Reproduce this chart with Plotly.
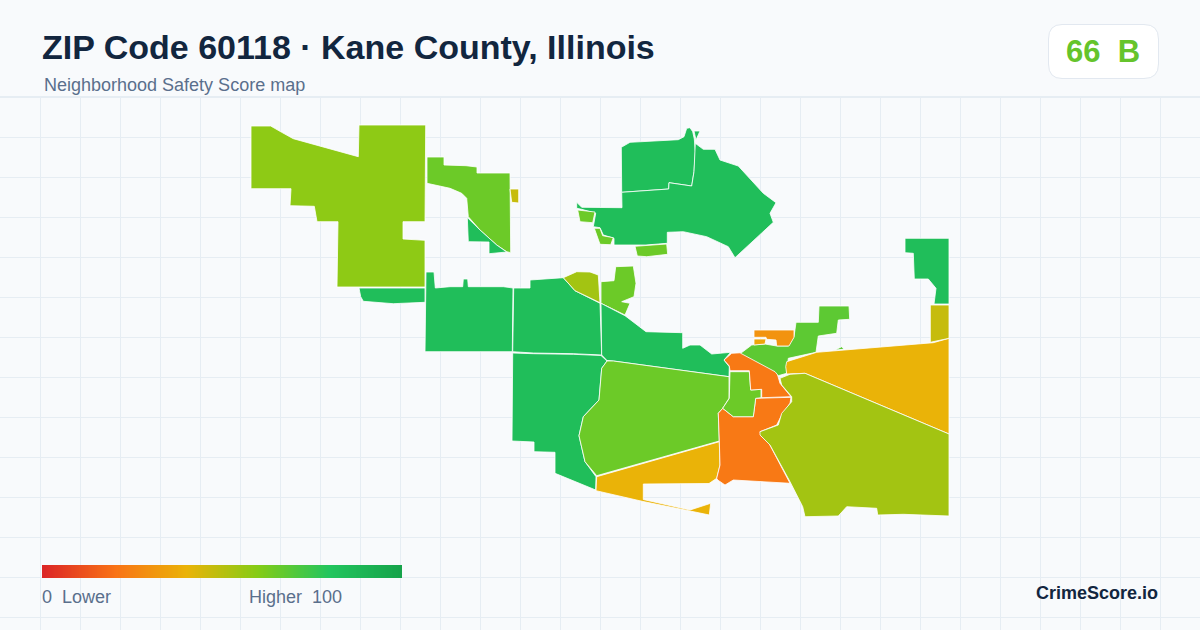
import plotly.graph_objects as go
from plotly.colors import sample_colorscale

# score ramp used by the map and the legend bar
score_stops = [
    [0.0, "#dc2626"],
    [0.2, "#f97316"],
    [0.4, "#eab308"],
    [0.6, "#84cc16"],
    [0.8, "#22c55e"],
    [1.0, "#16a34a"],
]
legend_scores = list(range(0, 101))

# map areas: (score, outline)
northwest = [(251, 126), (270.7, 126), (281.7, 132.3), (293.3, 138.7), (358.3, 156.7), (359, 125), (425.7, 125), (425, 221.7), (403, 221.7), (403, 239), (425, 240.3), (425, 287), (337, 287), (338, 221.7), (317, 221.7), (314.3, 206.3), (290, 205.7), (291, 188.7), (251, 188.7)]
north_strip = [(427, 157), (444, 157), (444, 165), (466, 165.7), (477, 167), (477, 173), (510, 173), (510.7, 252.7), (506.7, 251.7), (496.7, 245), (480, 230), (468.3, 216.7), (466.7, 198.3), (461.7, 193.3), (450, 188.3), (427, 183.3)]
north_wedge = [(467.3, 217.5), (480, 230), (496.7, 245), (506.7, 252), (489, 253.7), (489, 242), (468.3, 241.7)]
north_dot = [(510, 189), (518.7, 189), (518.7, 203), (511.7, 202.3)]
lake_north = [(621.3, 147.3), (630, 142.3), (678.3, 139.7), (684, 136.7), (686.7, 128.3), (690, 127.7), (692.7, 131.7), (694.3, 139), (695.3, 151.7), (694, 171.7), (691.7, 186), (669, 182.7), (668.7, 189), (621.7, 192.3)]
lake_tip = [(694, 131), (700, 131), (696, 140)]
lake_main = [(576.7, 202.3), (581.7, 207.3), (622, 207.7), (621.7, 192.3), (668.7, 189), (669, 182.7), (691.7, 186), (694, 171.7), (695.3, 143.3), (703.3, 149.3), (715, 149.3), (720, 160), (738.3, 166), (763.3, 193.3), (776, 202.7), (770, 213.3), (773.3, 222.3), (735, 257.7), (728.3, 246.7), (706.7, 236.7), (683.3, 231.7), (667.3, 232.3), (667.3, 243.3), (646, 245), (614, 245), (614, 238.3), (603.3, 235), (600, 227.7), (593.3, 226.7), (595.7, 213.3), (581.7, 209.3), (576.7, 208.3)]
lake_west = [(577.7, 210), (595, 212), (592.7, 222.7), (580, 221.7)]
lake_sw = [(594.3, 228.3), (600, 228.3), (602.7, 235.7), (613.3, 237.7), (610.7, 244.7), (600, 244.3)]
lake_south = [(635, 246.3), (666.7, 244), (667.7, 254.3), (646.7, 256.7), (637.3, 256)]
under_nw = [(359, 288), (425, 288), (425, 302.3), (393.3, 303.7), (363.3, 301.3), (360.7, 296.7)]
west_block = [(426, 272), (434, 272), (435.3, 288), (450, 286.7), (462.7, 286.7), (463.3, 279), (467.7, 279), (468.3, 286.7), (503.3, 286.7), (513, 288), (512.3, 351.7), (425, 351.7)]
mid_block = [(513.7, 288), (530, 288), (530, 280), (563.3, 277.7), (575, 290.7), (600, 303.3), (601.7, 355), (573.3, 353.7), (533.3, 353), (512.7, 351.7)]
mid_cap = [(563.3, 277.7), (576.7, 271.7), (590, 272), (598.3, 275), (600, 302.7), (575, 290.7)]
mid_north = [(601, 281.7), (614, 280.7), (615.7, 266.7), (633.3, 266), (636, 283.3), (634, 296.7), (621.7, 301.7), (630, 303.3), (625, 315), (601, 303.3)]
river_band = [(601, 303.3), (625, 315.7), (646, 331.7), (682.7, 332.7), (682.7, 348.3), (690, 345), (700, 345), (711.7, 354), (730.7, 352.3), (724, 360), (729.3, 366.7), (729, 376.7), (613.3, 361), (607, 360.5), (601.7, 355)]
southwest = [(512.7, 353), (533.3, 353.7), (573.3, 354.3), (601, 355.5), (607, 361), (601.7, 368.3), (599, 400), (583.3, 416.7), (579, 435.7), (585, 461.7), (596, 476.7), (595.7, 490), (555, 473.3), (555, 452.3), (534, 451.7), (534, 442), (512, 441)]
center = [(607, 361), (613.3, 361), (729, 376.7), (729, 398.3), (722.7, 408.3), (718.3, 413.3), (719.3, 441), (596.7, 475.7), (585, 461.7), (579, 435.7), (583.3, 416.7), (599, 400), (601.7, 368.3)]
south_band = [(596.7, 476.7), (719.3, 441.7), (720, 465), (716.7, 478.3), (709, 483.5), (643.3, 484), (643.3, 499.5), (690, 510), (710.7, 503.3), (709.3, 515), (690, 511), (643, 501.5), (596, 490.7)]
south_core = [(718.3, 413.3), (722.7, 408.3), (733.3, 416.7), (753.3, 416.7), (755.7, 398.3), (791, 397.3), (790, 403.3), (781.7, 415), (776.7, 425), (760, 431.7), (761.7, 436.7), (769, 443.3), (790, 483.3), (733.3, 480), (725, 485), (717.7, 480), (716.7, 478.3), (720, 465), (719.3, 441)]
core_west = [(730, 371.7), (749.3, 371.7), (750.7, 390), (761, 389.3), (761, 397.7), (755.7, 398.3), (753.3, 416.7), (733.3, 416.7), (722.7, 408.3), (729.3, 398.3)]
core_north = [(724, 360), (731.7, 353.3), (741.7, 352.7), (776.7, 371.7), (780, 383.3), (791, 396.7), (761.7, 397.7), (761.7, 389.3), (750.7, 390), (749.3, 370.7), (730, 370.7), (729.3, 366)]
northeast_arm = [(740.7, 353.3), (751.7, 345), (765, 344), (776.7, 346), (788.3, 346), (794, 336.7), (796, 322.3), (818.3, 322.3), (819, 306), (849, 306), (849.7, 319.3), (838.3, 320), (836.7, 333.3), (818.3, 336), (816, 352.3), (788.3, 358.3), (786.7, 373.3), (778.3, 375.7), (775, 371.7)]
arm_sliver = [(835, 350), (841.7, 346.7), (844, 349.3)]
arm_top = [(754, 330), (794, 330), (794, 337.3), (789, 346), (776.7, 346), (776, 340), (766.7, 339.3), (766, 337.3), (754, 337.3)]
arm_low = [(754, 339), (766, 339), (765, 344), (754, 345)]
east_band = [(786.7, 361.7), (816.7, 352.3), (933.3, 342.7), (949, 338.3), (949, 434), (805, 373.3), (786.7, 374), (785.7, 366.7)]
southeast = [(780, 378.3), (790, 374.3), (805, 373.3), (949, 434), (949, 516), (925, 515), (903.3, 514.3), (877.7, 515), (876.7, 508.3), (846.7, 506.7), (838.3, 516), (805, 516.7), (802.7, 506.7), (790, 481.7), (770, 445), (760, 435), (760, 431.7), (778.3, 425), (781.7, 413.3), (791.7, 401.7), (791.7, 396.7), (781.7, 385)]
far_northeast = [(905, 238.3), (949, 238.3), (949, 304), (934, 304), (936, 288.3), (928.3, 279), (914.3, 279), (913.3, 253.3), (905, 252.7)]
far_east = [(930.3, 305), (949, 305), (949, 338.3), (930.3, 342.3)]

map_areas = [
    (58, northwest), (65, north_strip), (84, north_wedge), (47, north_dot),
    (84, lake_north), (84, lake_tip), (84, lake_main), (65, lake_west), (65, lake_sw), (65, lake_south),
    (84, under_nw), (84, west_block), (84, mid_block), (54, mid_cap), (65, mid_north), (84, river_band),
    (84, southwest), (65, center), (40, south_band), (22, south_core), (65, core_west), (22, core_north),
    (68, northeast_arm), (68, arm_sliver), (30, arm_top), (36, arm_low), (40, east_band), (54, southeast),
    (84, far_northeast), (47, far_east),
]

title_text = "ZIP Code 60118 · Kane County, Illinois"
subtitle_text = "Neighborhood Safety Score map"
badge_text = "66  B"
brand_text = "CrimeScore.io"

FONT = "Liberation Sans"
INK = "#12263f"
MUTED = "#5a6f8c"
PAPER = "#f8fafc"
GRID = "#e6edf3"

fig = go.Figure()

for score, outline in map_areas:
    colour = sample_colorscale(score_stops, score / 100)[0]
    fig.add_trace(go.Scatter(
        x=[p[0] for p in outline] + [outline[0][0]],
        y=[p[1] for p in outline] + [outline[0][1]],
        mode="lines",
        fill="toself",
        fillcolor=colour,
        line=dict(color="#ffffff", width=0.8),
        hoverinfo="skip",
        showlegend=False,
    ))

# legend bar, 42 to 402 wide and 565 to 578 high once the half cells are counted
fig.add_trace(go.Heatmap(
    z=[legend_scores, legend_scores],
    x=[42 + 360 * (s + 0.5) / 101 for s in legend_scores],
    y=[568.25, 574.75],
    colorscale=score_stops,
    zmin=0,
    zmax=100,
    zsmooth="best",
    showscale=False,
    hoverinfo="skip",
))


def label(text, x, y, size, color, anchor="left", bold=False):
    # annotations carry about 2px of padding on the anchored side
    shift = {"left": -2, "right": 2, "center": 0}[anchor]
    fig.add_annotation(
        text="<b>%s</b>" % text if bold else text,
        x=x, y=y, xref="x", yref="y",
        xanchor=anchor, yanchor="middle",
        xshift=shift,
        showarrow=False,
        font=dict(family=FONT, size=size, color=color),
    )


label(title_text, 42, 47, 34, INK, bold=True)
label(subtitle_text, 44, 85, 18, MUTED)
label(badge_text, 1103, 51, 31, "#65c42c", anchor="center", bold=True)
label("0  Lower", 42, 597, 18, MUTED)
label("Higher  100", 249, 597, 18, MUTED)
label(brand_text, 1158, 593, 18, INK, anchor="right", bold=True)

# header covers the grid, badge sits on it
fig.add_shape(type="rect", x0=0, x1=1200, y0=0, y1=96.5, layer="between",
              fillcolor=PAPER, line_width=0)
fig.add_shape(type="line", x0=0, x1=1200, y0=96.5, y1=96.5, layer="between",
              line=dict(color=GRID, width=1))
fig.add_shape(type="path",
              path="M 1062 24.5 L 1144 24.5 Q 1158.5 24.5 1158.5 39 L 1158.5 64 Q 1158.5 78.5 1144 78.5 "
                   "L 1062 78.5 Q 1048.5 78.5 1048.5 64 L 1048.5 39 Q 1048.5 24.5 1062 24.5 Z",
              layer="between", fillcolor="#ffffff", line=dict(color="#e2e8f0", width=1))

fig.update_xaxes(range=[0, 1200], visible=True, showticklabels=False, ticks="", zeroline=False,
                 showline=False, showgrid=True, gridcolor=GRID, gridwidth=1, tick0=0, dtick=40)
fig.update_yaxes(range=[630, 0], visible=True, showticklabels=False, ticks="", zeroline=False,
                 showline=False, showgrid=True, gridcolor=GRID, gridwidth=1, tick0=17, dtick=40)
fig.update_layout(
    width=1200, height=630,
    margin=dict(l=0, r=0, t=0, b=0),
    paper_bgcolor=PAPER,
    plot_bgcolor=PAPER,
    showlegend=False,
)

# the page's default margin would push the picture 8px in
fig.write_html("out.html", config={"displayModeBar": False},
               post_script="document.body.style.margin='0';")
